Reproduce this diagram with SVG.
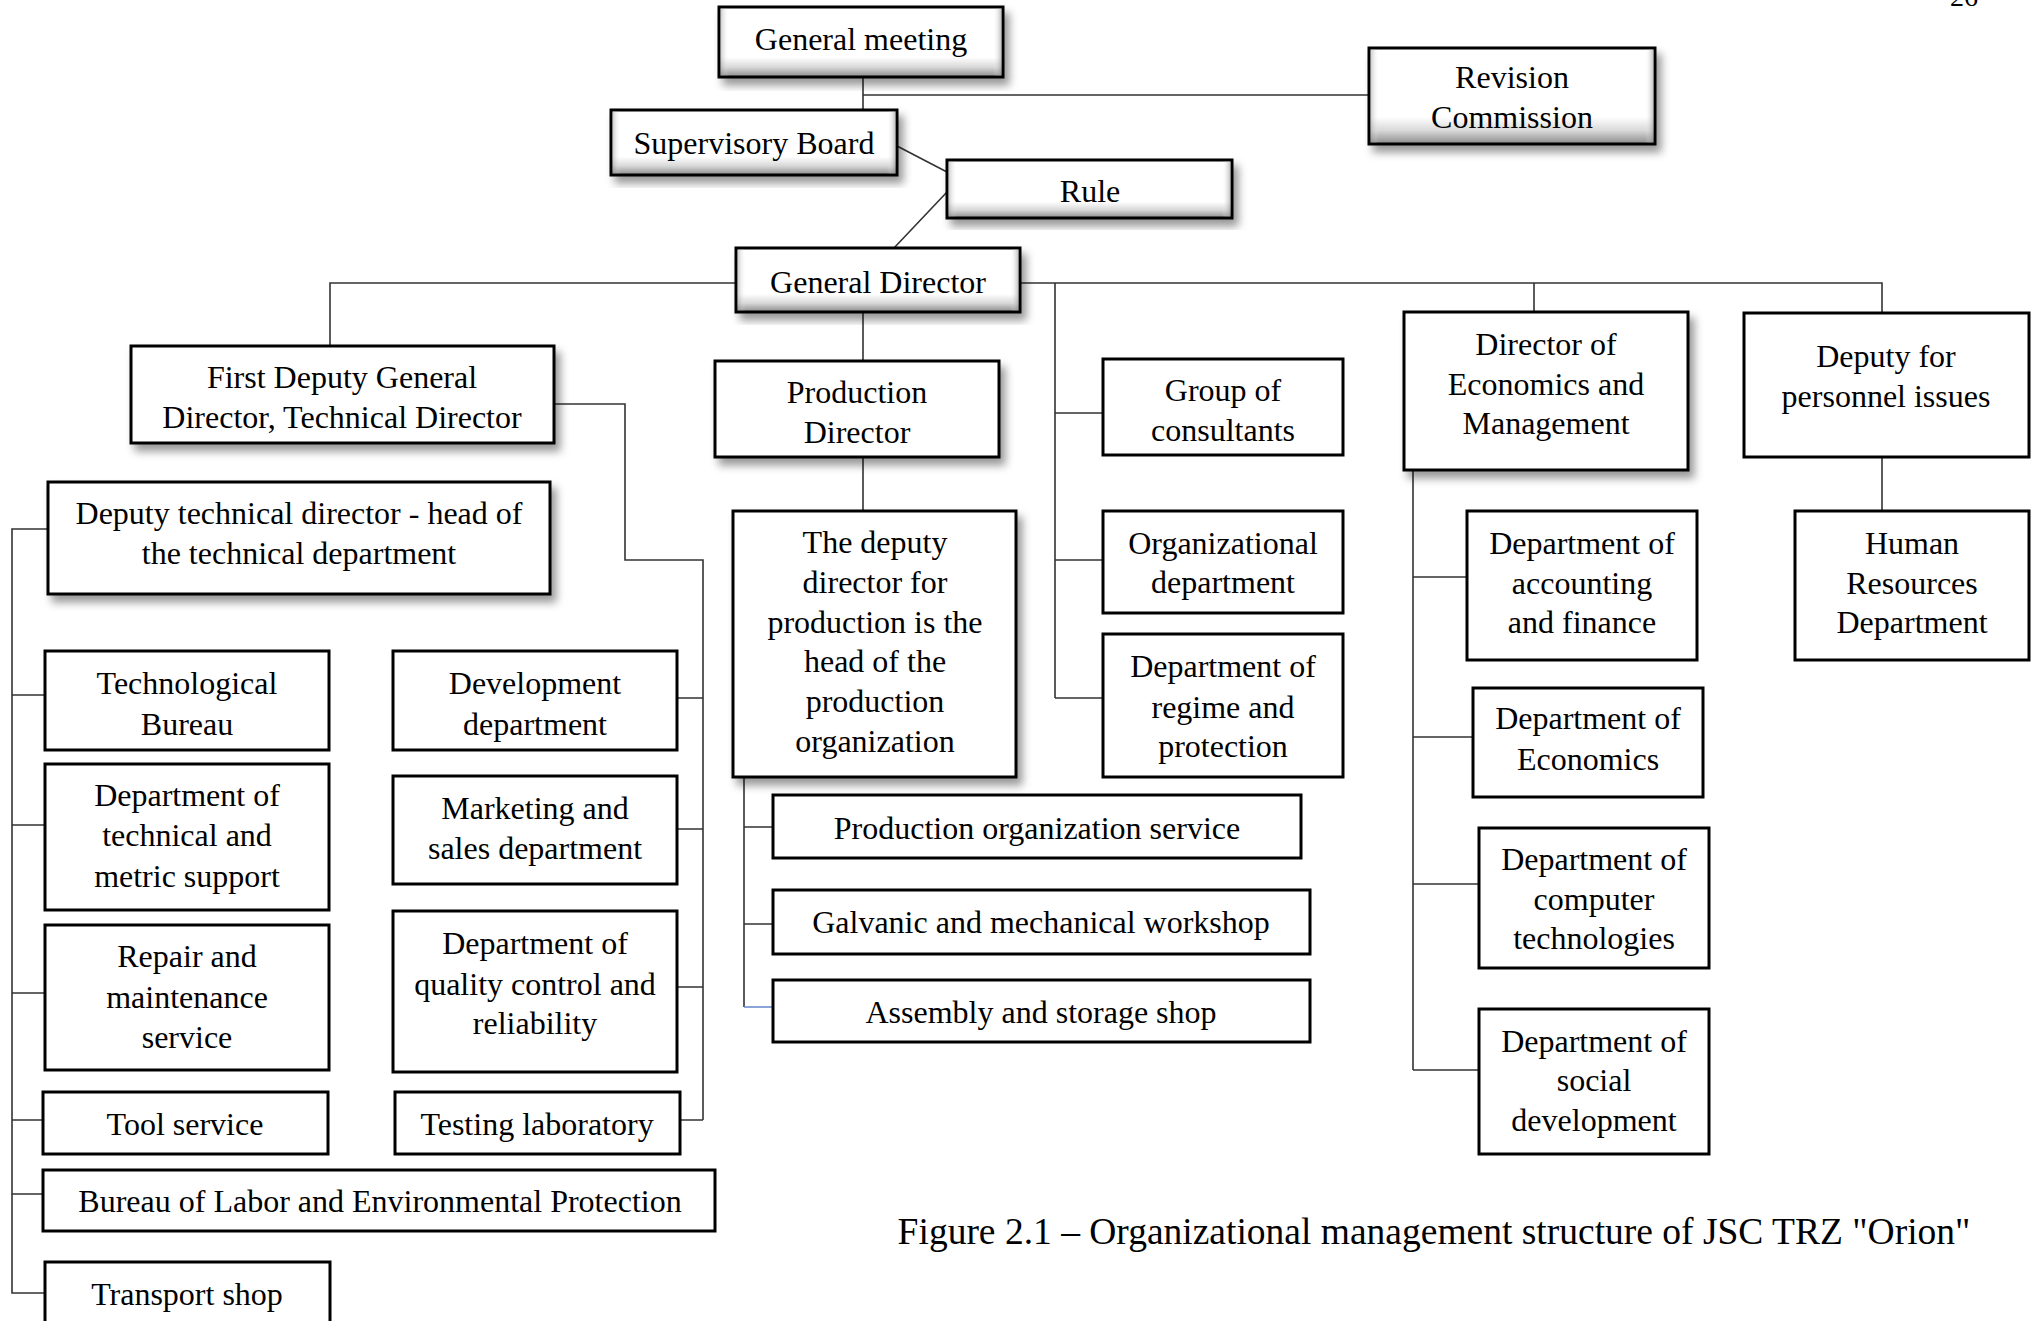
<svg xmlns="http://www.w3.org/2000/svg" width="2038" height="1321" viewBox="0 0 2038 1321">
<defs>
<linearGradient id="bev" x1="0" y1="0" x2="0" y2="1">
<stop offset="0" stop-color="#ffffff"/>
<stop offset="0.72" stop-color="#ffffff"/>
<stop offset="0.86" stop-color="#d8d8d8"/>
<stop offset="1" stop-color="#8a8a8a"/>
</linearGradient>
<linearGradient id="bevh" x1="0" y1="0" x2="1" y2="0">
<stop offset="0" stop-color="#888" stop-opacity="0.45"/>
<stop offset="0.03" stop-color="#fff" stop-opacity="0"/>
<stop offset="0.97" stop-color="#fff" stop-opacity="0"/>
<stop offset="1" stop-color="#888" stop-opacity="0.55"/>
</linearGradient>
<filter id="sh" x="-10%" y="-10%" width="125%" height="130%">
<feDropShadow dx="5" dy="7" stdDeviation="4" flood-color="#000" flood-opacity="0.4"/>
</filter>
</defs>
<style>
.b{fill:#fff;stroke:#000;stroke-width:3}
.bv{fill:url(#bev);stroke:#000;stroke-width:3}
.bh{fill:url(#bevh);stroke:none}
.s{filter:url(#sh)}
text{font-family:"Liberation Serif","Times New Roman",serif;font-size:32px;fill:#000;text-anchor:middle}
.c{fill:none;stroke:#333;stroke-width:1.6}
</style>
<rect width="2038" height="1321" fill="#fff"/>
<text x="1964" y="6" style="font-size:28px">26</text>

<g id="connectors">
<path class="c" d="M863 77V110M863 95H1369"/>
<path class="c" d="M897 146L947 172M947 192L894 248"/>
<path class="c" d="M736 283H330V346M1020 283H1882V313M1534 283V312"/>
<path class="c" d="M863 312V361M863 457V511"/>
<path class="c" d="M1055 283V698M1055 413H1103M1055 560H1103M1055 698H1103"/>
<path class="c" d="M554 404H625V560H703V1120M677 698H703M677 829H703M677 987H703M680 1120H703"/>
<path class="c" d="M48 529H12V1293H45M12 695H45M12 825H45M12 993H45M12 1120H43M12 1194H43"/>
<path class="c" d="M744 777V1007M744 827H773M744 924H773"/>
<path class="c" d="M744 1007H773" style="stroke:#6f8fd0"/>
<path class="c" d="M1413 470V1070M1413 577H1467M1413 737H1473M1413 884H1479M1413 1070H1479"/>
<path class="c" d="M1882 457V511"/>
</g>

<g id="general-meeting"><rect class="bv s" x="719" y="7" width="284" height="70"/><rect class="bh" x="720.5" y="8.5" width="281" height="67"/><text x="861" y="50">General meeting</text></g>
<g id="revision-commission"><rect class="bv s" x="1369" y="48" width="286" height="96"/><rect class="bh" x="1370.5" y="49.5" width="283" height="93"/><text x="1512" y="88">Revision</text><text x="1512" y="128">Commission</text></g>
<g id="supervisory-board"><rect class="bv s" x="611" y="110" width="286" height="65"/><rect class="bh" x="612.5" y="111.5" width="283" height="62"/><text x="754" y="154">Supervisory Board</text></g>
<g id="rule"><rect class="bv s" x="947" y="160" width="285" height="58"/><rect class="bh" x="948.5" y="161.5" width="282" height="55"/><text x="1090" y="202">Rule</text></g>
<g id="general-director"><rect class="bv s" x="736" y="248" width="284" height="64"/><rect class="bh" x="737.5" y="249.5" width="281" height="61"/><text x="878" y="293">General Director</text></g>

<g id="first-deputy"><rect class="b s" x="131" y="346" width="423" height="97"/><text x="342" y="388">First Deputy General</text><text x="342" y="428">Director, Technical Director</text></g>
<g id="production-director"><rect class="b s" x="715" y="361" width="284" height="96"/><text x="857" y="403">Production</text><text x="857" y="443">Director</text></g>
<g id="group-consultants"><rect class="b" x="1103" y="359" width="240" height="96"/><text x="1223" y="401">Group of</text><text x="1223" y="441">consultants</text></g>
<g id="director-economics"><rect class="b s" x="1404" y="312" width="284" height="158"/><text x="1546" y="355">Director of</text><text x="1546" y="395">Economics and</text><text x="1546" y="434">Management</text></g>
<g id="deputy-personnel"><rect class="b" x="1744" y="313" width="285" height="144"/><text x="1886" y="367">Deputy for</text><text x="1886" y="407">personnel issues</text></g>

<g id="deputy-technical"><rect class="b s" x="48" y="482" width="502" height="112"/><text x="299" y="524">Deputy technical director - head of</text><text x="299" y="564">the technical department</text></g>
<g id="deputy-production"><rect class="b s" x="733" y="511" width="283" height="266"/><text x="875" y="553">The deputy</text><text x="875" y="593">director for</text><text x="875" y="633">production is the</text><text x="875" y="672">head of the</text><text x="875" y="712">production</text><text x="875" y="752">organization</text></g>
<g id="organizational-dept"><rect class="b" x="1103" y="511" width="240" height="102"/><text x="1223" y="554">Organizational</text><text x="1223" y="593">department</text></g>
<g id="regime-dept"><rect class="b" x="1103" y="634" width="240" height="143"/><text x="1223" y="677">Department of</text><text x="1223" y="718">regime and</text><text x="1223" y="757">protection</text></g>
<g id="accounting-dept"><rect class="b" x="1467" y="511" width="230" height="149"/><text x="1582" y="554">Department of</text><text x="1582" y="594">accounting</text><text x="1582" y="633">and finance</text></g>
<g id="hr-dept"><rect class="b" x="1795" y="511" width="234" height="149"/><text x="1912" y="554">Human</text><text x="1912" y="594">Resources</text><text x="1912" y="633">Department</text></g>

<g id="technological-bureau"><rect class="b" x="45" y="651" width="284" height="99"/><text x="187" y="694">Technological</text><text x="187" y="735">Bureau</text></g>
<g id="development-dept"><rect class="b" x="393" y="651" width="284" height="99"/><text x="535" y="694">Development</text><text x="535" y="735">department</text></g>
<g id="technical-metric"><rect class="b" x="45" y="764" width="284" height="146"/><text x="187" y="806">Department of</text><text x="187" y="846">technical and</text><text x="187" y="887">metric support</text></g>
<g id="marketing-sales"><rect class="b" x="393" y="776" width="284" height="108"/><text x="535" y="819">Marketing and</text><text x="535" y="859">sales department</text></g>
<g id="repair-maintenance"><rect class="b" x="45" y="925" width="284" height="145"/><text x="187" y="967">Repair and</text><text x="187" y="1008">maintenance</text><text x="187" y="1048">service</text></g>
<g id="quality-control"><rect class="b" x="393" y="911" width="284" height="161"/><text x="535" y="954">Department of</text><text x="535" y="995">quality control and</text><text x="535" y="1034">reliability</text></g>
<g id="tool-service"><rect class="b" x="43" y="1092" width="285" height="62"/><text x="185" y="1135">Tool service</text></g>
<g id="testing-lab"><rect class="b" x="395" y="1092" width="285" height="62"/><text x="537" y="1135">Testing laboratory</text></g>
<g id="bureau-labor"><rect class="b" x="43" y="1170" width="672" height="61"/><text x="380" y="1212">Bureau of Labor and Environmental Protection</text></g>
<g id="transport-shop"><rect class="b" x="45" y="1262" width="285" height="80"/><text x="187" y="1305">Transport shop</text></g>

<g id="economics-dept"><rect class="b" x="1473" y="688" width="230" height="109"/><text x="1588" y="729">Department of</text><text x="1588" y="770">Economics</text></g>
<g id="production-org-service"><rect class="b" x="773" y="795" width="528" height="63"/><text x="1037" y="839">Production organization service</text></g>
<g id="galvanic-workshop"><rect class="b" x="773" y="890" width="537" height="64"/><text x="1041" y="933">Galvanic and mechanical workshop</text></g>
<g id="assembly-shop"><rect class="b" x="773" y="980" width="537" height="62"/><text x="1041" y="1023">Assembly and storage shop</text></g>
<g id="computer-dept"><rect class="b" x="1479" y="828" width="230" height="140"/><text x="1594" y="870">Department of</text><text x="1594" y="910">computer</text><text x="1594" y="949">technologies</text></g>
<g id="social-dept"><rect class="b" x="1479" y="1009" width="230" height="145"/><text x="1594" y="1052">Department of</text><text x="1594" y="1091">social</text><text x="1594" y="1131">development</text></g>

<text x="1434" y="1244" style="font-size:37.5px">Figure 2.1 – Organizational management structure of JSC TRZ "Orion"</text>
</svg>
